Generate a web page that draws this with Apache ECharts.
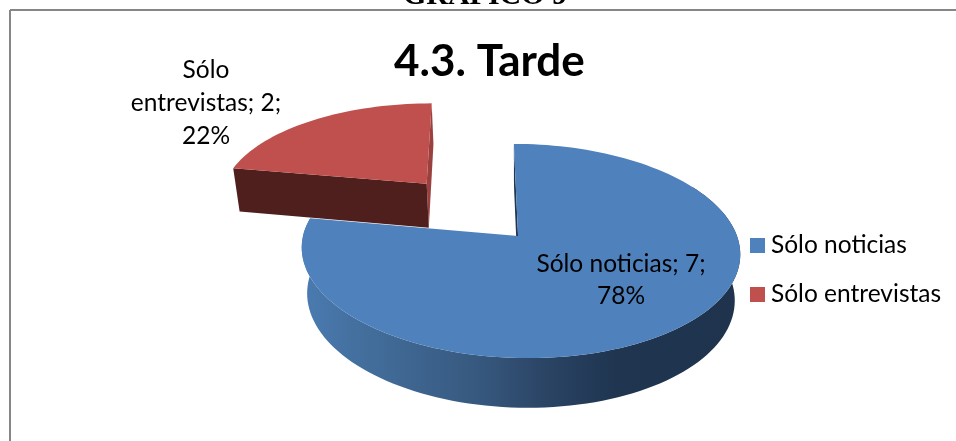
<!DOCTYPE html>
<html>
<head>
<meta charset="utf-8">
<style>html,body{margin:0;padding:0;background:#fff}#c{width:956px;height:441px}</style>
<script src="https://cdn.jsdelivr.net/npm/echarts@6/dist/echarts.min.js"></script>
</head>
<body>
<div id="c"></div>
<script>
var pageHeading = 'GRÁFICO 9';
var chartTitle = '4.3. Tarde';
var categories = ['Sólo noticias', 'Sólo entrevistas'];
var values = [7, 2];
var sliceColors = ['#4F81BD', '#C0504D'];

var total = values.reduce(function (a, b) { return a + b; }, 0);
var FONT = 'Lato, "Open Sans", sans-serif';

// Projection of the tilted, perspective pie
var P = { x0: 520, y0: 236, rx: 217, ry: 105, sk: 7, k: 0.14, kz: 0.025, d: 47 };
function proj(u, v, z) {
  var w = 1 + P.k * v + P.kz * z;
  return [P.x0 + (P.rx * u - P.sk * v) / w, P.y0 + (-P.ry * v + P.d * z) / w];
}
var explode = [[0, 0], [-0.445, 0.535]];
var apexShift = [-0.009, 0];
var labelPos = [[621, 280, 32], [206, 103, 33]];

function arc(a0, a1, z, o) {
  var pts = [], n = Math.max(8, Math.ceil(Math.abs(a1 - a0) / 2));
  for (var i = 0; i <= n; i++) {
    var a = (a0 + (a1 - a0) * i / n) * Math.PI / 180;
    pts.push(proj(o[0] + Math.sin(a), o[1] + Math.cos(a), z));
  }
  return pts;
}
function poly(points, fill, z2) {
  return { type: 'polygon', z2: z2, shape: { points: points }, style: { fill: fill, stroke: null } };
}
var blueWall = {
  type: 'linear', x: 302, y: 0, x2: 739, y2: 0, global: true,
  colorStops: [
    { offset: 0, color: '#4B7BB2' }, { offset: 0.12, color: '#44709F' },
    { offset: 0.4, color: '#37597F' }, { offset: 0.55, color: '#2B4566' },
    { offset: 0.72, color: '#1F3550' }, { offset: 1, color: '#1F334D' }
  ]
};
function sliceLabel(i) {
  var pct = Math.round(values[i] / total * 100) + '%';
  var text;
  if (i === 0) text = categories[i] + '; ' + values[i] + ';\n' + pct;
  else {
    var w = categories[i].split(' ');
    text = w[0] + '\n' + w[1] + '; ' + values[i] + ';\n' + pct;
  }
  return {
    type: 'text', z2: 20,
    style: {
      text: text, x: labelPos[i][0], y: labelPos[i][1], align: 'center', verticalAlign: 'middle',
      font: '24.5px ' + FONT, lineHeight: labelPos[i][2], fill: '#000'
    }
  };
}
function renderSlice(idx) {
  return function (params, api) {
    var start = 0;
    for (var j = 0; j < idx; j++) start += values[j];
    var a0 = start / total * 360, a1 = a0 + api.value(0) / total * 360;
    var o = explode[idx];
    var ax = o[0] + apexShift[idx];
    var apexT = proj(ax, o[1], 0), apexB = proj(ax, o[1], 1);
    var top = arc(a0, a1, 0, o);
    var kids = [];
    if (idx === 0) {
      var t = arc(60, a1, 0, o), b = arc(60, a1, 1, o).reverse();
      kids.push(poly(t.concat(b), blueWall, 1));
      kids.push(poly([apexT, top[0], arc(a0, a0 + 1, 1, o)[0], apexB], '#1F3552', 2));
    } else {
      var ea = arc(a1 - 1, a1, 0, o), eb = arc(a1 - 1, a1, 1, o);
      kids.push(poly([apexT, ea[ea.length - 1], eb[eb.length - 1], apexB], '#9A403E', 1));
      kids.push(poly([top[0], apexT, apexB, arc(a0, a0 + 1, 1, o)[0]], '#4F1F1E', 2));
    }
    kids.push(poly([apexT].concat(top), sliceColors[idx], 3));
    kids.push(sliceLabel(idx));
    return { type: 'group', children: kids };
  };
}

var chart = echarts.init(document.getElementById('c'), null, { renderer: 'canvas' });
chart.setOption({
  animation: false,
  backgroundColor: '#fff',
  title: {
    text: chartTitle, left: 389, top: 35,
    textStyle: { fontFamily: FONT, fontWeight: 'bold', fontSize: 44, color: '#000' }
  },
  legend: {
    orient: 'vertical', left: 750, top: 233, padding: 0, itemWidth: 15, itemHeight: 15, itemGap: 24,
    data: categories, icon: 'rect', selectedMode: false,
    textStyle: { fontFamily: FONT, fontSize: 24.5, color: '#000', padding: [0, 0, 0, 1] }
  },
  graphic: [
    { type: 'text', z: 5, style: { text: pageHeading, x: 485, y: 11, align: 'center', verticalAlign: 'bottom', font: 'bold 30px "Liberation Serif", serif', fill: '#000' } },
    { type: 'line', z: 5, shape: { x1: 10, y1: 10, x2: 956, y2: 10 }, style: { stroke: '#868686', lineWidth: 2 } },
    { type: 'line', z: 5, shape: { x1: 10, y1: 10, x2: 10, y2: 441 }, style: { stroke: '#868686', lineWidth: 2 } }
  ],
  series: categories.map(function (name, i) {
    return {
      type: 'custom', name: name, coordinateSystem: 'none', z: 2 + i,
      itemStyle: { color: sliceColors[i] },
      renderItem: renderSlice(i),
      data: [[values[i]]]
    };
  })
});
</script>
</body>
</html>
